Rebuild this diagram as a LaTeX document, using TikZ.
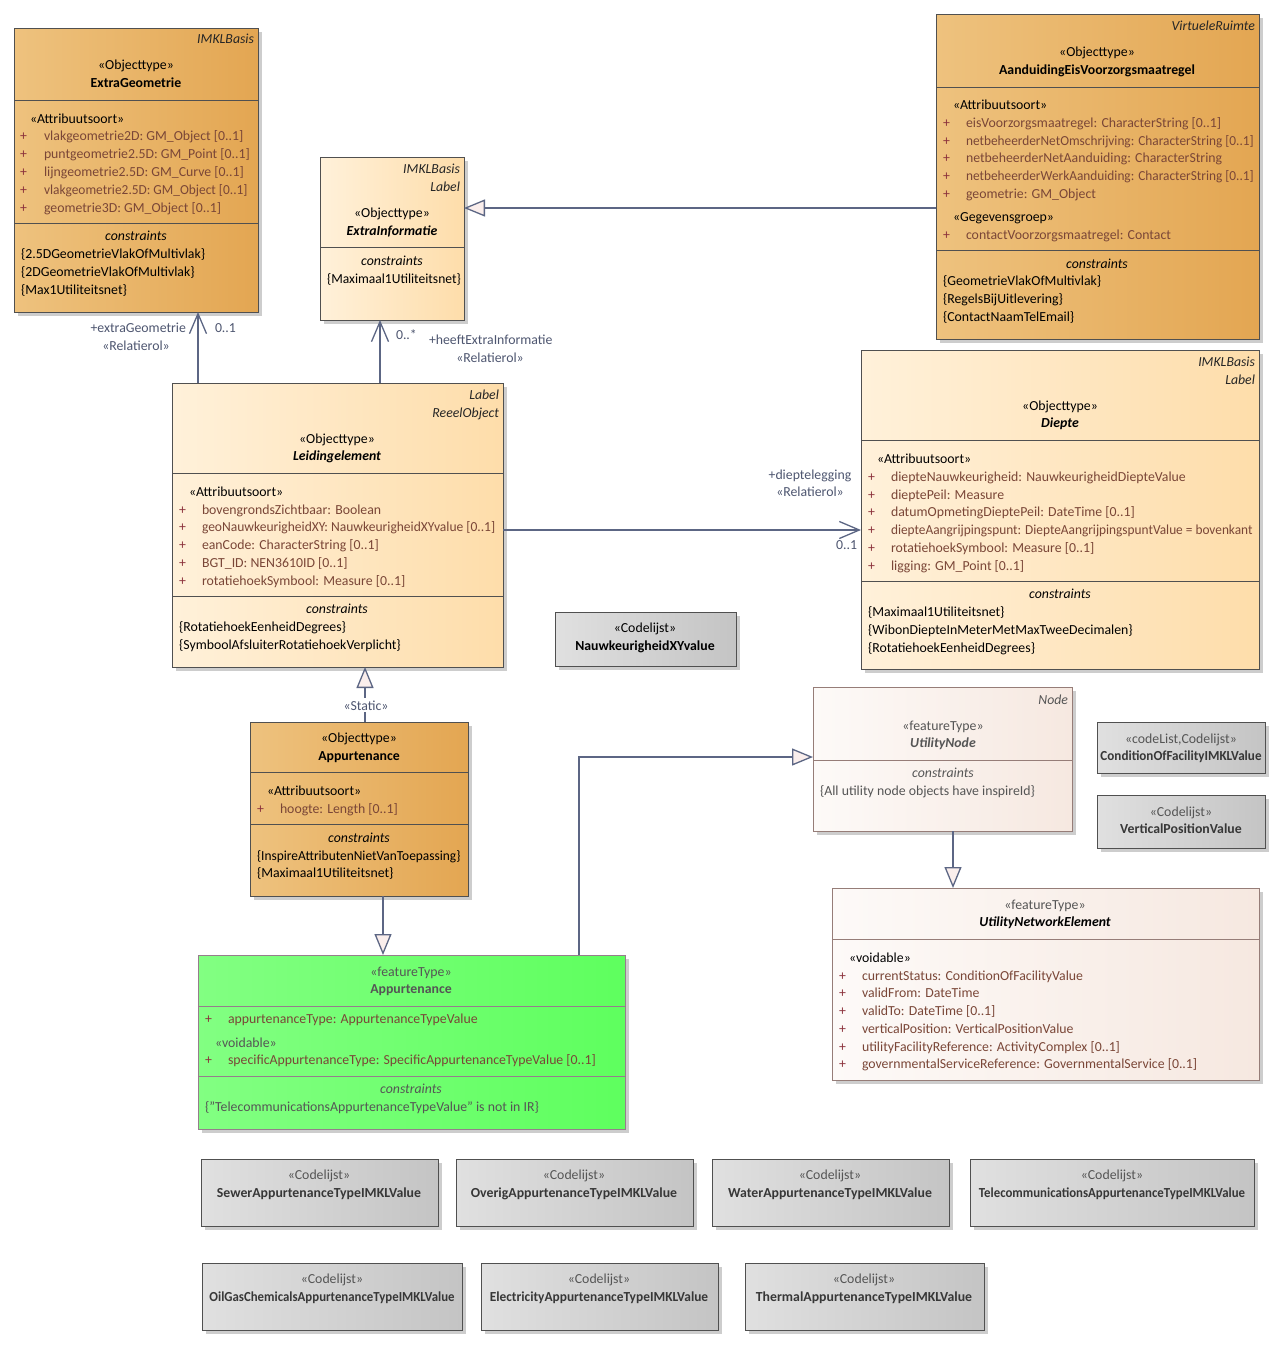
\documentclass[tikz,border=0pt]{standalone}
\usepackage{fontspec}
\usepackage{graphicx}
\setmainfont{Carlito}
\usetikzlibrary{arrows.meta}
\definecolor{darkL}{RGB}{238,194,126}
\definecolor{darkR}{RGB}{227,166,82}
\definecolor{lightL}{RGB}{255,241,218}
\definecolor{lightR}{RGB}{254,221,170}
\definecolor{nodeL}{RGB}{253,250,248}
\definecolor{nodeR}{RGB}{246,232,224}
\definecolor{greenL}{RGB}{130,255,130}
\definecolor{greenR}{RGB}{94,255,94}
\definecolor{grayL}{RGB}{224,224,224}
\definecolor{grayR}{RGB}{196,196,196}
\definecolor{boxline}{RGB}{80,80,80}
\definecolor{nodeline}{RGB}{150,125,120}
\definecolor{greenline}{RGB}{150,125,140}
\definecolor{conn}{RGB}{92,102,132}
\definecolor{attrc}{RGB}{122,70,55}
\definecolor{plusc}{RGB}{140,50,60}
\definecolor{labc}{RGB}{78,86,112}
\definecolor{shadowc}{RGB}{205,205,205}
\definecolor{trifill}{RGB}{250,238,236}
\definecolor{greytext}{RGB}{85,85,85}
\definecolor{cltext}{RGB}{55,55,55}
\newcommand\fs{\fontsize{13.8}{16}\selectfont}
\newcommand\sq[2]{\scalebox{#1}[1]{#2}}
\newcounter{tn}
\newcommand\TL[4][]{\stepcounter{tn}\node[txt,anchor=base west,#1] (t\thetn) at (#2,-#3-4) {#4};}
\newcommand\TC[4][]{\stepcounter{tn}\node[txt,anchor=base,#1] (t\thetn) at (#2,-#3-4) {#4};}
\newcommand\TR[4][]{\stepcounter{tn}\node[txt,anchor=base east,#1] (t\thetn) at (#2,-#3-4) {#4};}
\newcommand\AT[4]{\TL[plusc]{#1}{#3}{+}\TL[attrc]{#2}{#3}{#4}}
\newcommand\UBox[6]{%
  \pgfmathsetmacro\bw{#4-#2}\pgfmathsetmacro\bh{#5-#3}%
  \fill[shadowc] (#2+4,-#3-4) rectangle (#4+4,-#5-4);%
  \node[#6,minimum width=\bw pt,minimum height=\bh pt,anchor=north west] (#1) at (#2,-#3) {};}
\newcommand\Div[4][boxline]{\draw[#1,line width=1pt] (#2,-#4) -- (#3,-#4);}
\tikzset{
  txt/.style={inner sep=0pt,outer sep=0pt,font=\fs,text=black},
  tag/.style={font=\fs\itshape,text=black!85},
  nm/.style={font=\fs\bfseries},
  nmi/.style={font=\fs\bfseries\itshape},
  cst/.style={font=\fs\itshape},
  lab/.style={text=labc},
  darkbox/.style={draw=boxline,line width=1pt,left color=darkL,right color=darkR,inner sep=0pt,outer sep=0pt},
  lightbox/.style={draw=boxline,line width=1pt,left color=lightL,right color=lightR,inner sep=0pt,outer sep=0pt},
  nodebox/.style={draw=nodeline,line width=1pt,left color=nodeL,right color=nodeR,inner sep=0pt,outer sep=0pt},
  greenbox/.style={draw=greenline,line width=1pt,left color=greenL,right color=greenR,inner sep=0pt,outer sep=0pt},
  graybox/.style={draw=boxline,line width=1pt,left color=grayL,right color=grayR,inner sep=0pt,outer sep=0pt},
  assoc/.style={draw=conn,line width=1.3pt,-{Straight Barb[length=20pt,width=17pt,line width=1.3pt]}},
  gen/.style={draw=conn,line width=1.3pt,-{Triangle[open,length=21pt,width=17pt,fill=trifill,line width=1.3pt]}},
}
\begin{document}
\begin{tikzpicture}[x=1pt,y=1pt]
\useasboundingbox (0,0) rectangle (1283,-1347);
\fill[white] (0,0) rectangle (1283,-1347);

% ---------- ExtraGeometrie
\UBox{eg}{14}{28}{258}{312}{darkbox}
\TR[tag]{254}{39}{IMKLBasis}
\TC{136}{65}{«Objecttype»}
\TC[nm]{136}{83}{ExtraGeometrie}
\Div{14}{258}{100}
\TL{30}{119}{«Attribuutsoort»}
\AT{20}{44}{136}{vlakgeometrie2D: GM\_Object [0..1]}
\AT{20}{44}{154}{puntgeometrie2.5D: GM\_Point [0..1]}
\AT{20}{44}{172}{lijngeometrie2.5D: GM\_Curve [0..1]}
\AT{20}{44}{190}{\sq{0.97}{vlakgeometrie2.5D: GM\_Object [0..1]}}
\AT{20}{44}{208}{geometrie3D: GM\_Object [0..1]}
\Div{14}{258}{223}
\TC[cst]{136}{236}{constraints}
\TL{21}{254}{\{2.5DGeometrieVlakOfMultivlak\}}
\TL{21}{272}{\{2DGeometrieVlakOfMultivlak\}}
\TL{21}{290}{\{Max1Utiliteitsnet\}}

% ---------- ExtraInformatie
\UBox{ei}{320}{157}{464}{320}{lightbox}
\TR[tag]{460}{169}{IMKLBasis}
\TR[tag]{460}{187}{Label}
\TC{392}{213}{«Objecttype»}
\TC[nmi]{392}{231}{ExtraInformatie}
\Div{320}{464}{247}
\TC[cst]{392}{261}{constraints}
\TL{327}{279}{\sq{0.98}{\{Maximaal1Utiliteitsnet\}}}

% ---------- AanduidingEisVoorzorgsmaatregel
\UBox{aev}{936}{14}{1259}{339}{darkbox}
\TR[tag]{1255}{26}{VirtueleRuimte}
\TC{1097}{52}{«Objecttype»}
\TC[nm]{1097}{70}{AanduidingEisVoorzorgsmaatregel}
\Div{936}{1259}{87}
\TL{953}{105}{«Attribuutsoort»}
\AT{943}{966}{123}{eisVoorzorgsmaatregel: CharacterString [0..1]}
\AT{943}{966}{141}{\sq{0.965}{netbeheerderNetOmschrijving: CharacterString [0..1]}}
\AT{943}{966}{158}{netbeheerderNetAanduiding: CharacterString}
\AT{943}{966}{176}{\sq{0.965}{netbeheerderWerkAanduiding: CharacterString [0..1]}}
\AT{943}{966}{194}{geometrie: GM\_Object}
\TL{953}{217}{«Gegevensgroep»}
\AT{943}{966}{235}{contactVoorzorgsmaatregel: Contact}
\Div{936}{1259}{250}
\TC[cst]{1097}{264}{constraints}
\TL{943}{281}{\{GeometrieVlakOfMultivlak\}}
\TL{943}{299}{\{RegelsBijUitlevering\}}
\TL{943}{317}{\{ContactNaamTelEmail\}}

% ---------- Leidingelement
\UBox{lei}{172}{383}{503}{667}{lightbox}
\TR[tag]{499}{395}{Label}
\TR[tag]{499}{413}{ReeelObject}
\TC{337}{439}{«Objecttype»}
\TC[nmi]{337}{456}{Leidingelement}
\Div{172}{503}{473}
\TL{189}{492}{«Attribuutsoort»}
\AT{179}{202}{510}{bovengrondsZichtbaar: Boolean}
\AT{179}{202}{527}{\sq{0.98}{geoNauwkeurigheidXY: NauwkeurigheidXYvalue [0..1]}}
\AT{179}{202}{545}{eanCode: CharacterString [0..1]}
\AT{179}{202}{563}{BGT\_ID: NEN3610ID [0..1]}
\AT{179}{202}{581}{rotatiehoekSymbool: Measure [0..1]}
\Div{172}{503}{596}
\TC[cst]{337}{609}{constraints}
\TL{179}{627}{\{RotatiehoekEenheidDegrees\}}
\TL{179}{645}{\{SymboolAfsluiterRotatiehoekVerplicht\}}

% ---------- Diepte
\UBox{dp}{861}{350}{1259}{669}{lightbox}
\TR[tag]{1255}{362}{IMKLBasis}
\TR[tag]{1255}{380}{Label}
\TC{1060}{406}{«Objecttype»}
\TC[nmi]{1060}{423}{Diepte}
\Div{861}{1259}{440}
\TL{877}{459}{«Attribuutsoort»}
\AT{868}{891}{477}{diepteNauwkeurigheid: NauwkeurigheidDiepteValue}
\AT{868}{891}{495}{dieptePeil: Measure}
\AT{868}{891}{512}{datumOpmetingDieptePeil: DateTime [0..1]}
\AT{868}{891}{530}{\sq{0.965}{diepteAangrijpingspunt: DiepteAangrijpingspuntValue = bovenkant}}
\AT{868}{891}{548}{rotatiehoekSymbool: Measure [0..1]}
\AT{868}{891}{566}{ligging: GM\_Point [0..1]}
\Div{861}{1259}{581}
\TC[cst]{1060}{594}{constraints}
\TL{868}{612}{\{Maximaal1Utiliteitsnet\}}
\TL{868}{630}{\{WibonDiepteInMeterMetMaxTweeDecimalen\}}
\TL{868}{648}{\{RotatiehoekEenheidDegrees\}}

% ---------- NauwkeurigheidXYvalue
\UBox{nxy}{555}{612}{736}{666}{graybox}
\TC{645}{628}{«Codelijst»}
\TC[nm]{645}{646}{NauwkeurigheidXYvalue}

% ---------- Appurtenance (Objecttype)
\UBox{apo}{250}{722}{468}{896}{darkbox}
\TC{359}{738}{«Objecttype»}
\TC[nm]{359}{756}{Appurtenance}
\Div{250}{468}{772}
\TL{267}{791}{«Attribuutsoort»}
\AT{257}{280}{809}{hoogte: Length [0..1]}
\Div{250}{468}{824}
\TC[cst]{359}{838}{constraints}
\TL{257}{856}{\sq{0.97}{\{InspireAttributenNietVanToepassing\}}}
\TL{257}{873}{\{Maximaal1Utiliteitsnet\}}

% ---------- UtilityNode
\UBox{un}{813}{687}{1072}{831}{nodebox}
\TR[tag,text=greytext]{1068}{700}{Node}
\TC[text=greytext]{943}{726}{«featureType»}
\TC[nmi,text=greytext]{943}{743}{UtilityNode}
\Div[nodeline]{813}{1072}{760}
\TC[cst,text=greytext]{943}{773}{constraints}
\TL[text=greytext]{820}{791}{\{All utility node objects have inspireId\}}

% ---------- codelists right
\UBox{cof}{1097}{722}{1265}{773}{graybox}
\TC[text=greytext]{1181}{739}{«codeList,Codelijst»}
\TC[nm,text=cltext]{1181}{756}{\sq{0.95}{ConditionOfFacilityIMKLValue}}
\UBox{vpv}{1097}{795}{1265}{848}{graybox}
\TC[text=greytext]{1181}{812}{«Codelijst»}
\TC[nm,text=cltext]{1181}{829}{VerticalPositionValue}

% ---------- UtilityNetworkElement
\UBox{une}{832}{888}{1259}{1080}{nodebox}
\TC[text=greytext]{1045}{905}{«featureType»}
\TC[nmi]{1045}{922}{UtilityNetworkElement}
\Div[nodeline]{832}{1259}{939}
\TL{849}{958}{«voidable»}
\AT{839}{862}{976}{currentStatus: ConditionOfFacilityValue}
\AT{839}{862}{993}{validFrom: DateTime}
\AT{839}{862}{1011}{validTo: DateTime [0..1]}
\AT{839}{862}{1029}{verticalPosition: VerticalPositionValue}
\AT{839}{862}{1047}{utilityFacilityReference: ActivityComplex [0..1]}
\AT{839}{862}{1064}{governmentalServiceReference: GovernmentalService [0..1]}

% ---------- Appurtenance (featureType, green)
\UBox{apf}{198}{955}{625}{1129}{greenbox}
\TC[text=greytext]{411}{972}{«featureType»}
\TC[nm,text=greytext]{411}{989}{Appurtenance}
\Div[greenline]{198}{625}{1006}
\AT{205}{228}{1019}{appurtenanceType: AppurtenanceTypeValue}
\TL[text=greytext]{215}{1043}{«voidable»}
\AT{205}{228}{1060}{specificAppurtenanceType: SpecificAppurtenanceTypeValue [0..1]}
\Div[greenline]{198}{625}{1076}
\TC[cst,text=greytext]{411}{1089}{constraints}
\TL[text=greytext]{205}{1107}{\{\char34 TelecommunicationsAppurtenanceTypeValue\char34\ is not in IR\}}

% ---------- codelists bottom
\UBox{cl1}{201}{1159}{438}{1226}{graybox}
\TC[text=greytext]{319}{1175}{«Codelijst»}
\TC[nm,text=cltext]{319}{1193}{SewerAppurtenanceTypeIMKLValue}
\UBox{cl2}{456}{1159}{693}{1226}{graybox}
\TC[text=greytext]{574}{1175}{«Codelijst»}
\TC[nm,text=cltext]{574}{1193}{OverigAppurtenanceTypeIMKLValue}
\UBox{cl3}{712}{1159}{949}{1226}{graybox}
\TC[text=greytext]{830}{1175}{«Codelijst»}
\TC[nm,text=cltext]{830}{1193}{WaterAppurtenanceTypeIMKLValue}
\UBox{cl4}{970}{1159}{1254}{1226}{graybox}
\TC[text=greytext]{1112}{1175}{«Codelijst»}
\TC[nm,text=cltext]{1112}{1193}{\sq{0.93}{TelecommunicationsAppurtenanceTypeIMKLValue}}
\UBox{cl5}{202}{1263}{462}{1330}{graybox}
\TC[text=greytext]{332}{1279}{«Codelijst»}
\TC[nm,text=cltext]{332}{1297}{\sq{0.93}{OilGasChemicalsAppurtenanceTypeIMKLValue}}
\UBox{cl6}{481}{1263}{718}{1330}{graybox}
\TC[text=greytext]{599}{1279}{«Codelijst»}
\TC[nm,text=cltext]{599}{1297}{\sq{0.97}{ElectricityAppurtenanceTypeIMKLValue}}
\UBox{cl7}{745}{1263}{984}{1330}{graybox}
\TC[text=greytext]{864}{1279}{«Codelijst»}
\TC[nm,text=cltext]{864}{1297}{ThermalAppurtenanceTypeIMKLValue}

% ---------- connectors
\coordinate (x1) at (198,0);
\coordinate (x2) at (380,0);
\coordinate (y3) at (0,-208);
\coordinate (y4) at (0,-530);
\coordinate (x5) at (365,0);
\coordinate (x6) at (383,0);
\coordinate (x7) at (579,0);
\coordinate (y7) at (0,-757);
\coordinate (x8) at (953,0);
\draw[assoc] (lei.north -| x1) -- (eg.south -| x1);
\draw[assoc] (lei.north -| x2) -- (ei.south -| x2);
\draw[gen] (aev.west |- y3) -- (ei.east |- y3);
\draw[assoc] (lei.east |- y4) -- (dp.west |- y4);
\draw[gen] (apo.north -| x5) -- (lei.south -| x5);
\draw[gen] (apo.south -| x6) -- (apf.north -| x6);
\draw[gen] (apf.north -| x7) |- (un.west |- y7);
\draw[gen] (un.south -| x8) -- (une.north -| x8);

% ---------- connector labels
\TR[lab]{186}{328}{+extraGeometrie}
\TC[lab]{136}{346}{«Relatierol»}
\TL[lab]{215}{328}{0..1}
\TL[lab]{396}{335}{0..*}
\TL[lab]{429}{340}{+heeftExtraInformatie}
\TC[lab]{490}{358}{«Relatierol»}
\TC[lab]{810}{475}{+dieptelegging}
\TC[lab]{810}{492}{«Relatierol»}
\TR[lab]{857}{545}{0..1}
\TC[lab,fill=white,inner xsep=1pt,inner ysep=2pt]{366}{706}{«Static»}
\end{tikzpicture}
\end{document}
